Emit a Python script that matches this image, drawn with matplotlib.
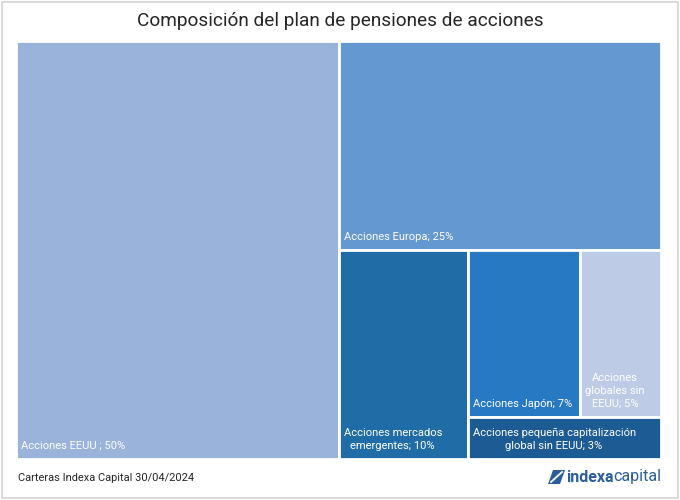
import matplotlib
matplotlib.use("Agg")
import matplotlib.pyplot as plt
from matplotlib.patches import Rectangle, Polygon
from matplotlib import font_manager as fm

names = {f.name for f in fm.fontManager.ttflist}
fam = [n for n in ["Liberation Sans Narrow", "Roboto", "DejaVu Sans"] if n in names]
plt.rcParams['font.family'] = fam

categories = ["Acciones EEUU ; 50%", "Acciones Europa; 25%",
              "Acciones mercados\nemergentes; 10%", "Acciones Japón; 7%",
              "Acciones\nglobales sin\nEEUU; 5%",
              "Acciones pequeña capitalización\nglobal sin EEUU; 3%"]
values = [50, 25, 10, 7, 5, 3]
colors = ["#9AB3DB", "#6498D0", "#1F6CA7", "#2779C3", "#BDCBE7", "#1C5B93"]

W, H = 644.0, 417.0


def worst(row, length, total_area, total):
    s = sum(row)
    thick = s / total * total_area / length
    r = []
    for v in row:
        l = v / total * total_area / thick
        r.append(max(l / thick, thick / l))
    return max(r)


def layout(vals, x, y, w, h, tol=1.1):
    rects = []
    vals = list(vals)
    while vals:
        total = sum(vals)
        area = w * h
        length = min(w, h)
        row = [vals[0]]
        i = 1
        while i < len(vals):
            cand = row + [vals[i]]
            if worst(cand, length, area, total) <= worst(row, length, area, total) * tol:
                row = cand
                i += 1
            else:
                break
        s = sum(row)
        if w >= h:
            rw = s / total * w
            cy = y + h
            for v in row:
                rh = v / s * h
                rects.append((x, cy - rh, rw, rh))
                cy -= rh
            x += rw
            w -= rw
        else:
            rh = s / total * h
            cx = x
            for v in row:
                rw = v / s * w
                rects.append((cx, y + h - rh, rw, rh))
                cx += rw
            h -= rh
        vals = vals[i:]
    return rects


fig = plt.figure(figsize=(6.8, 5.0), dpi=100)
fig.patches.append(Rectangle((0.003, 0.004), 0.994, 0.992, transform=fig.transFigure,
                             fill=False, edgecolor="#D4D4D4", linewidth=1.2))
ax = fig.add_axes([16 / 680, 1 - 459 / 500, 645 / 680, 418 / 500])
ax.set_xlim(0, W)
ax.set_ylim(0, H)
ax.axis("off")

rects = layout(values, 0, 0, W, H)
for (rx, ry, rw, rh), c, lab in zip(rects, colors, categories):
    ax.add_patch(Rectangle((rx, ry), rw, rh, facecolor=c, edgecolor="white", linewidth=2))
    ax.text(rx + 5, ry + 8, lab, color="white", fontsize=8, ha="left", va="bottom",
            multialignment="center", linespacing=1.4)

fig.text(0.5, 0.957, "Composición del plan de pensiones de acciones", ha="center", va="center",
         fontsize=13.7, color="#262626")
fig.text(18 / 680, 1 - 478 / 500, "Carteras Indexa Capital 30/04/2024", ha="left", va="center",
         fontsize=7.9, color="#262626")

# logo
fig.patches.append(Polygon([(548 / 680, 1 - 484 / 500), (553 / 680, 1 - 470 / 500),
                            (565 / 680, 1 - 470 / 500), (560 / 680, 1 - 484 / 500)],
                           closed=True, transform=fig.transFigure, facecolor="#2B5E9B",
                           edgecolor="none"))
fig.lines.append(plt.Line2D([551 / 680, 562 / 680], [1 - 482 / 500, 1 - 472 / 500],
                            transform=fig.transFigure, color="white", linewidth=1.3))
t1 = fig.text(566 / 680, 1 - 477 / 500, "indexa", ha="left", va="center", fontsize=11.5,
              fontweight="bold", color="#2B5E9B")
fig.canvas.draw()
bb = t1.get_window_extent()
fig.text(bb.x1 / 680, 1 - 477 / 500, "capital", ha="left", va="center", fontsize=11.5,
         color="#2B5E9B")

fig.savefig("out.png", dpi=100)
